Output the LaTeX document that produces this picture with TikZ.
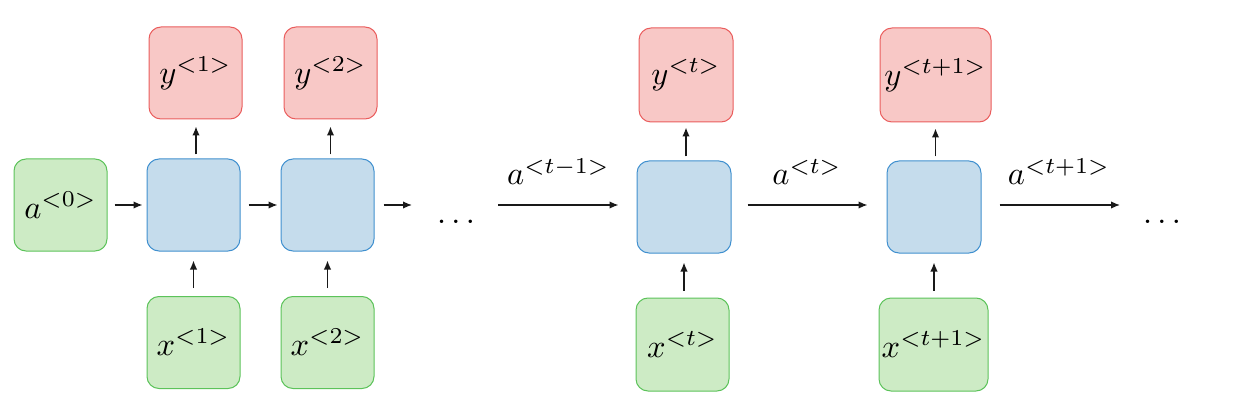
\documentclass[tikz,border=0pt]{standalone}
\usepackage{graphicx}
\usetikzlibrary{arrows.meta,calc}
\definecolor{gfill}{HTML}{CDEBC5}
\definecolor{gdraw}{HTML}{5CC35A}
\definecolor{rfill}{HTML}{F8C8C6}
\definecolor{rdraw}{HTML}{EA5D5D}
\definecolor{bfill}{HTML}{C5DCEC}
\definecolor{bdraw}{HTML}{4090CF}
\newcommand{\rnnmath}[1]{\scalebox{3.25}{$#1$}}
\begin{document}
\begin{tikzpicture}[x=1pt,y=-1pt,
  box/.style={rounded corners=12pt, line width=1pt, minimum width=93pt, minimum height=92pt, inner sep=0pt},
  inbox/.style={box, fill=gfill, draw=gdraw},
  outbox/.style={box, fill=rfill, draw=rdraw},
  cell/.style={box, fill=bfill, draw=bdraw},
  arr/.style={-{Latex[length=9pt,width=7.5pt]}, line width=1.4pt, draw=black!90},
  lbl/.style={inner sep=0pt, anchor=base}]
\useasboundingbox (0,0) rectangle (1234,414);
% nodes
\node[inbox] (a0) at (60.5,205) {\rnnmath{a^{<0>}}};
\node[cell] (c1) at (193.5,205) {};
\node[cell] (c2) at (327.5,205) {};
\node[outbox] (y1) at (195.5,73) {\rnnmath{y^{<1>}}};
\node[outbox] (y2) at (330.5,73) {\rnnmath{y^{<2>}}};
\node[inbox] (x1) at (193.5,342.5) {\rnnmath{x^{<1>}}};
\node[inbox] (x2) at (327.5,342.5) {\rnnmath{x^{<2>}}};
\node[cell, minimum width=94pt] (ct) at (684,207) {};
\node[outbox, minimum width=94pt, minimum height=94pt] (yt) at (686,75) {\rnnmath{y^{<t>}}};
\node[inbox, minimum height=93pt] (xt) at (682.5,344.5) {\rnnmath{x^{<t>}}};
\node[cell, minimum width=94pt] (ct1) at (934,207) {};
\node[outbox, minimum width=111pt, minimum height=94pt] (yt1) at (935.5,75) {\rnnmath{y^{<t+1>}}};
\node[inbox, minimum width=109pt, minimum height=93pt] (xt1) at (933.5,344.5) {\rnnmath{x^{<t+1>}}};
% dots and labels
\node[lbl] (d1) at (456,224) {\rnnmath{\ldots}};
\node[lbl] (d2) at (1162,224) {\rnnmath{\ldots}};
\node[lbl] (l1) at (558.5,185) {\rnnmath{a^{<t-1>}}};
\node[lbl] (l2) at (807,185) {\rnnmath{a^{<t>}}};
\node[lbl] (l3) at (1059,185) {\rnnmath{a^{<t+1>}}};
% free ends
\coordinate (e2) at (412,205);
\coordinate (s3) at (498,205);
\coordinate (e5) at (1120,205);
% horizontal arrows
\draw[arr, shorten <=7pt, shorten >=4pt] (a0) -- (c1);
\draw[arr, shorten <=8pt, shorten >=3pt] (c1) -- (c2);
\draw[arr, shorten <=9pt] (c2) -- (e2);
\draw[arr, shorten >=18pt] (s3) -- (ct.west |- s3);
\draw[arr, shorten <=16pt, shorten >=19pt] (ct.east |- s3) -- (ct1.west |- s3);
\draw[arr, shorten <=18pt] (ct1.east |- e5) -- (e5);
% vertical arrows
\draw[arr, shorten <=4pt, shorten >=7pt] ([xshift=2.5pt]c1.north) -- ([xshift=2.5pt]c1.north |- y1.south);
\draw[arr, shorten <=8pt, shorten >=9pt] (x1.north) -- (x1.north |- c1.south);
\draw[arr, shorten <=4pt, shorten >=7pt] ([xshift=3pt]c2.north) -- ([xshift=3pt]c2.north |- y2.south);
\draw[arr, shorten <=8pt, shorten >=9pt] (x2.north) -- (x2.north |- c2.south);
\draw[arr, shorten <=4pt, shorten >=5pt] (yt.south |- ct.north) -- (yt.south);
\draw[arr, shorten <=7pt, shorten >=9pt] (ct.south |- xt.north) -- (ct.south);
\draw[arr, shorten <=4pt, shorten >=6pt] (yt1.south |- ct1.north) -- (yt1.south);
\draw[arr, shorten <=7pt, shorten >=9pt] (ct1.south |- xt1.north) -- (ct1.south);
\end{tikzpicture}
\end{document}
